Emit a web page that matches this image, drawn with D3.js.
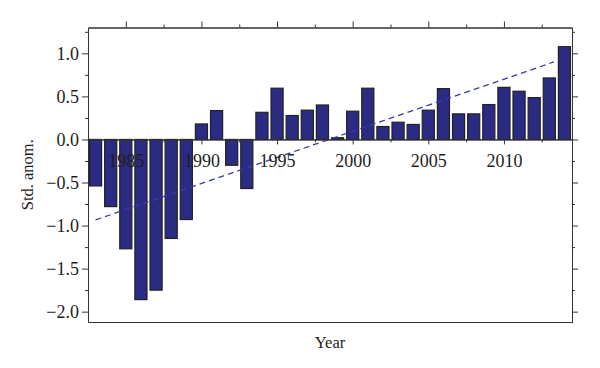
<!DOCTYPE html>
<html><head><meta charset="utf-8">
<script src="https://cdn.jsdelivr.net/npm/d3@7"></script>
<style>
html,body{margin:0;padding:0;background:#fff;}
text{font-family:"Liberation Serif","DejaVu Serif",serif;fill:#1e1e1e;}
</style></head>
<body><svg id="c" width="600" height="368"></svg>
<script>
const years = d3.range(1983, 2015);
const values = [-0.54,-0.78,-1.27,-1.86,-1.75,-1.15,-0.93,0.18,0.335,-0.30,-0.57,0.315,
  0.595,0.278,0.34,0.40,0.02,0.328,0.595,0.15,0.20,0.174,0.34,0.59,0.297,0.297,0.405,
  0.605,0.56,0.486,0.714,1.077];
const trendYears = [1983, 2013.3];
const trendValues = [-0.935, 0.90];
const xMajorTicks = [1985, 1990, 1995, 2000, 2005, 2010];
const xMinorTicks = [1987.5, 1992.5, 1997.5, 2002.5, 2007.5, 2012.5];
const yMajorTicks = [-2.0, -1.5, -1.0, -0.5, 0.0, 0.5, 1.0];
const yMinorTicks = [-1.75, -1.25, -0.75, -0.25, 0.25, 0.75, 1.25];
const xTitle = "Year";
const yTitle = "Std. anom.";

const L = 88, R = 572, T = 27.5, B = 322;
const svg = d3.select("#c");
const x = d3.scaleLinear().domain([1982.5, 2014.5]).range([L, R]);
const y = d3.scaleLinear().domain([-2.12, 1.3]).range([B, T]);
const bw = (x(1) - x(0)) * 0.8;
const ink = "#333";
const fsTick = 18, fsTitle = 16.5;
const fmt = v => (v < 0 ? "\u2212" : "") + Math.abs(v).toFixed(1);

// bars
svg.append("g").selectAll("rect").data(years).join("rect")
  .attr("x", (d) => x(d) - bw / 2)
  .attr("width", bw)
  .attr("y", (d, i) => y(Math.max(0, values[i])))
  .attr("height", (d, i) => Math.abs(y(values[i]) - y(0)))
  .attr("fill", "#2c2b84")
  .attr("stroke", "#222")
  .attr("stroke-width", 1.2);

// trend line
svg.append("path")
  .datum(trendYears.map((d, i) => [d, trendValues[i]]))
  .attr("d", d3.line().x(d => x(d[0])).y(d => y(d[1])))
  .attr("fill", "none").attr("stroke", "#3b3ba6").attr("stroke-width", 1.3)
  .attr("stroke-dasharray", "6,4");

// frame axes
function axisG(axis, tx, ty) {
  const g = svg.append("g").attr("transform", `translate(${tx},${ty})`).call(axis);
  g.selectAll("path,line").attr("stroke", ink).attr("stroke-width", 1);
  g.selectAll("text").attr("font-size", fsTick).attr("fill", "#1e1e1e");
  return g;
}
// left
axisG(d3.axisLeft(y).tickValues(yMajorTicks).tickFormat(fmt).tickSize(6).tickSizeOuter(0).tickPadding(3), L, 0);
axisG(d3.axisLeft(y).tickValues(yMinorTicks).tickFormat("").tickSize(3).tickSizeOuter(0), L, 0);
// right
axisG(d3.axisRight(y).tickValues(yMajorTicks).tickFormat("").tickSize(6).tickSizeOuter(0), R, 0);
axisG(d3.axisRight(y).tickValues(yMinorTicks).tickFormat("").tickSize(3).tickSizeOuter(0), R, 0);
// top
axisG(d3.axisTop(x).tickValues(xMajorTicks).tickFormat("").tickSize(6).tickSizeOuter(0), 0, T);
axisG(d3.axisTop(x).tickValues(xMinorTicks).tickFormat("").tickSize(3).tickSizeOuter(0), 0, T);
// bottom frame
axisG(d3.axisBottom(x).tickValues([]).tickSizeOuter(0), 0, B);
// zero axis
axisG(d3.axisBottom(x).tickValues(xMajorTicks).tickFormat(d3.format("d")).tickSize(5).tickSizeOuter(0).tickPadding(10), 0, y(0));
axisG(d3.axisBottom(x).tickValues(xMinorTicks).tickFormat("").tickSize(3).tickSizeOuter(0), 0, y(0));

// titles
svg.append("text").attr("x", (L + R) / 2).attr("y", 348).attr("text-anchor", "middle")
  .attr("font-size", fsTitle).text(xTitle);
svg.append("text").attr("transform", `translate(33,${(T + B) / 2}) rotate(-90)`)
  .attr("text-anchor", "middle").attr("font-size", fsTitle).text(yTitle);
</script></body></html>
